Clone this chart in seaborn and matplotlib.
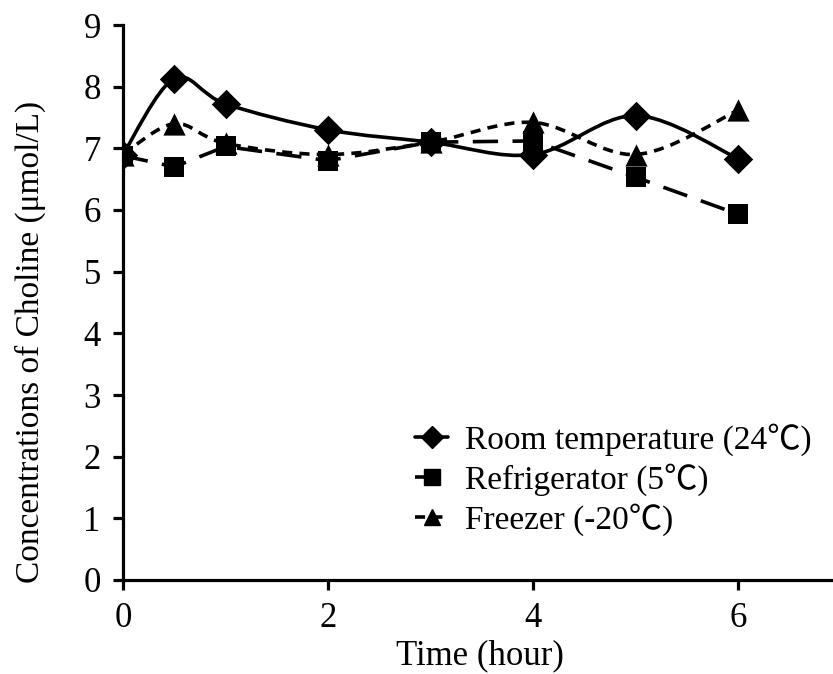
import matplotlib
matplotlib.use("Agg")
import matplotlib.pyplot as plt
import numpy as np
import pandas as pd
import seaborn as sns
from matplotlib.lines import Line2D
from matplotlib.path import Path
from matplotlib.patches import PathPatch

# values
time_h = [0, 0.5, 1, 2, 3, 4, 5, 6]
room_temp = [6.9, 8.13, 7.72, 7.3, 7.1, 6.9, 7.53, 6.83]
refrigerator = [6.88, 6.7, 7.03, 6.8, 7.1, 7.12, 6.53, 5.93]
freezer = [6.9, 7.4, 7.08, 6.9, 7.1, 7.42, 6.9, 7.62]

series_names = ["Room temperature (24℃)", "Refrigerator (5℃)", "Freezer (-20℃)"]
x_ticks = [0, 2, 4, 6]
y_ticks = list(range(0, 10))

FONT = ["Liberation Serif", "Noto Sans CJK SC", "DejaVu Sans"]
LW = 2.6


def smooth_path(xs, ys):
    """Excel-like smoothed line: Catmull-Rom as cubic Bezier segments."""
    pts = np.column_stack([xs, ys]).astype(float)
    n = len(pts)
    verts = [pts[0]]
    codes = [Path.MOVETO]
    for i in range(n - 1):
        p0 = pts[max(i - 1, 0)]
        p1 = pts[i]
        p2 = pts[i + 1]
        p3 = pts[min(i + 2, n - 1)]
        c1 = p1 + (p2 - p0) / 6.0
        c2 = p2 - (p3 - p1) / 6.0
        verts += [c1, c2, p2]
        codes += [Path.CURVE4] * 3
    return Path(verts, codes)


sns.set_theme(style="white")
plt.rcParams["font.family"] = FONT
plt.rcParams["axes.linewidth"] = 2.3
for key in ["text.color", "axes.labelcolor", "xtick.color", "ytick.color", "axes.edgecolor"]:
    plt.rcParams[key] = "black"

fig = plt.figure(figsize=(8.33, 6.74), dpi=100)
ax = fig.add_axes([123 / 833, 1 - 580 / 674, 718 / 833, 555 / 674])

df = pd.DataFrame({
    "time": time_h * 3,
    "value": room_temp + refrigerator + freezer,
    "series": sum([[s] * len(time_h) for s in series_names], []),
})

styles = {
    series_names[0]: dict(ls="-", marker="D", ms=15, smooth=True),
    series_names[1]: dict(ls=(0, (7, 4)), marker="s", ms=15, smooth=False),
    series_names[2]: dict(ls=(0, (2.8, 2.0)), marker="^", ms=16, smooth=True),
}

for name in series_names:
    sub = df[df["series"] == name]
    st = styles[name]
    if st["smooth"]:
        patch = PathPatch(smooth_path(sub["time"], sub["value"]), facecolor="none",
                          edgecolor="black", lw=LW, linestyle=st["ls"], zorder=2)
        ax.add_patch(patch)
    else:
        sns.lineplot(data=sub, x="time", y="value", ax=ax, color="black",
                     lw=LW, linestyle=st["ls"], zorder=2, legend=False)
    sns.scatterplot(data=sub, x="time", y="value", ax=ax, color="black",
                    marker=st["marker"], s=st["ms"] ** 2, edgecolor="black",
                    linewidth=0, zorder=3, legend=False)

ax.set_xlim(0, 7)
ax.set_ylim(0, 9)
ax.set_xticks(x_ticks)
ax.set_yticks(y_ticks)
ax.tick_params(axis="both", direction="out", length=7, width=2.3, color="black",
               labelcolor="black", labelsize=25, bottom=True, left=True)
ax.tick_params(axis="x", pad=9)
ax.tick_params(axis="y", pad=9)
for lab in ax.get_xticklabels() + ax.get_yticklabels():
    lab.set_fontfamily(FONT)

for side in ["top", "right"]:
    ax.spines[side].set_visible(False)
for side in ["left", "bottom"]:
    ax.spines[side].set_color("black")

ax.set_xlabel("Time (hour)", fontsize=25, family=FONT, color="black")
ax.set_ylabel("Concentrations of Choline (μmol/L)", fontsize=24, family=FONT, color="black")
ax.xaxis.set_label_coords((480 - 123) / 718, -0.106)
ax.yaxis.set_label_coords((46 - 123) / 718, (580 - 342) / 555)

handles = [
    Line2D([], [], color="black", lw=LW, linestyle=styles[n]["ls"],
           marker=styles[n]["marker"], markersize=styles[n]["ms"] * 0.75)
    for n in series_names
]
leg = ax.legend(handles, series_names, loc="lower left", bbox_to_anchor=(0.365, 0.026),
                frameon=False, handlelength=1.0, handletextpad=0.5,
                labelspacing=0.22, prop={"family": FONT, "size": 24})
for t in leg.get_texts():
    t.set_color("black")

fig.savefig("out.png", dpi=100, facecolor="white")
